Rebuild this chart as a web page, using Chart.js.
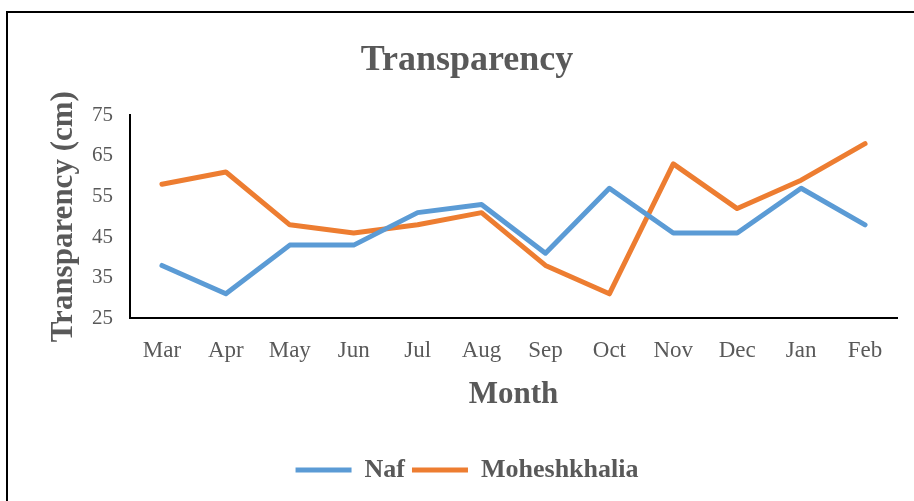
<!DOCTYPE html>
<html>
<head>
<meta charset="utf-8">
<script src="https://cdn.jsdelivr.net/npm/chart.js@4.4.0/dist/chart.umd.min.js"></script>
<style>
  html, body { margin: 0; padding: 0; background: #fff; overflow: hidden; }
  #wrap { position: relative; width: 914px; height: 501px; }
  #frame { position: absolute; left: 6px; top: 11px; width: 930px; height: 520px; border-top: 2px solid #000; border-left: 2px solid #000; pointer-events: none; }
  canvas { position: absolute; left: 0; top: 0; }
</style>
</head>
<body>
<div id="wrap">
  <canvas id="c" width="914" height="501"></canvas>
  <div id="frame"></div>
</div>
<script>
const months = ["Mar", "Apr", "May", "Jun", "Jul", "Aug", "Sep", "Oct", "Nov", "Dec", "Jan", "Feb"];
const naf = [38, 31, 43, 43, 51, 53, 41, 57, 46, 46, 57, 48];
const moheshkhalia = [58, 61, 48, 46, 48, 51, 38, 31, 63, 52, 59, 68];
const yTicks = [25, 35, 45, 55, 65, 75];

const serif = "'Liberation Serif', 'Times New Roman', serif";
const grey = '#595959';

new Chart(document.getElementById('c'), {
  type: 'line',
  data: {
    labels: months,
    datasets: [
      { label: 'Naf', data: naf, borderColor: '#5B9BD5', backgroundColor: '#5B9BD5', borderWidth: 5, pointRadius: 0, tension: 0, borderCapStyle: 'round', borderJoinStyle: 'round' },
      { label: 'Moheshkhalia', data: moheshkhalia, borderColor: '#ED7D31', backgroundColor: '#ED7D31', borderWidth: 5, pointRadius: 0, tension: 0, borderCapStyle: 'round', borderJoinStyle: 'round' }
    ]
  },
  options: {
    responsive: false,
    animation: false,
    layout: { padding: { left: 37, right: 17, top: 0, bottom: 8 } },
    plugins: {
      title: {
        display: true,
        text: 'Transparency',
        color: grey,
        font: { family: serif, size: 36, weight: 'bold' },
        padding: { top: 39, bottom: 33 }
      },
      legend: {
        position: 'bottom',
        labels: {
          color: grey,
          font: { family: serif, size: 26, weight: 'bold' },
          usePointStyle: true,
          pointStyle: 'line',
          pointStyleWidth: 56,
          padding: 7
        }
      },
      tooltip: { enabled: false }
    },
    scales: {
      x: {
        offset: true,
        grid: { display: false, drawTicks: false },
        border: { display: true, color: '#000', width: 2 },
        ticks: { color: grey, font: { family: serif, size: 23 }, padding: 19, maxRotation: 0 },
        title: { display: true, text: 'Month', color: grey, font: { family: serif, size: 31, weight: 'bold' }, padding: { top: -7, bottom: 36 } }
      },
      y: {
        min: 25,
        max: 75,
        afterFit(s) { s.width = 93; },
        afterBuildTicks(s) { s.ticks = yTicks.map(v => ({ value: v })); },
        grid: { display: false, drawTicks: false },
        border: { display: true, color: '#000', width: 2 },
        ticks: { color: grey, font: { family: serif, size: 21 }, padding: 17 },
        title: { display: true, text: 'Transparency (cm)', color: grey, font: { family: serif, size: 31, weight: 'bold' }, padding: { top: 8, bottom: 0 } }
      }
    }
  }
});
</script>
</body>
</html>
